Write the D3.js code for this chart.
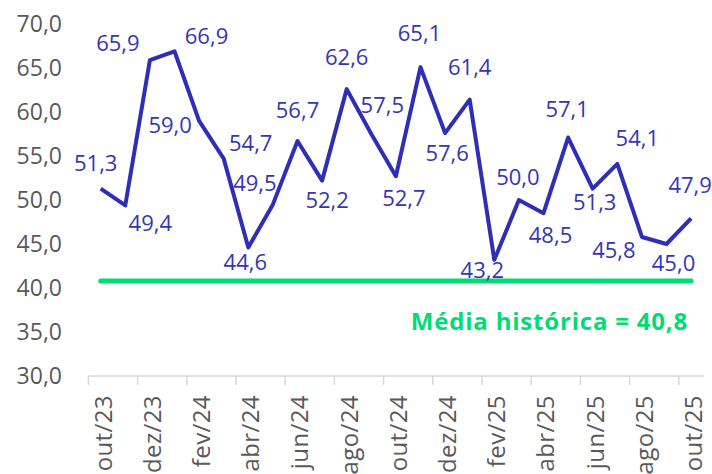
<!DOCTYPE html>
<html>
<head>
<meta charset="utf-8">
<script src="https://cdn.jsdelivr.net/npm/d3@7"></script>
<style>
	body { margin: 0; background: #fff; }
	text { font-family: "Open Sans", "Noto Sans", sans-serif; }
</style>
</head>
<body>
<div id="chart"></div>
<script>
// months shown on the axis (monthly series, out/23 .. out/25)
var months = ["out/23", "nov/23", "dez/23", "jan/24", "fev/24", "mar/24", "abr/24", "mai/24",
	"jun/24", "jul/24", "ago/24", "set/24", "out/24", "nov/24", "dez/24", "jan/25", "fev/25",
	"mar/25", "abr/25", "mai/25", "jun/25", "jul/25", "ago/25", "set/25", "out/25"];

var values = [51.3, 49.4, 65.9, 66.9, 59.0, 54.7, 44.6, 49.5, 56.7, 52.2, 62.6, 57.5, 52.7,
	65.1, 57.6, 61.4, 43.2, 50.0, 48.5, 57.1, 51.3, 54.1, 45.8, 45.0, 47.9];

var historicalMean = 40.8;
var yTicks = [30, 35, 40, 45, 50, 55, 60, 65, 70];

// where each data label sits relative to its point (dx, dy of the label centre)
var labelOffsets = [[-5, -25], [25, 18], [-32, -17], [32, -15], [-29, 4], [27, -15], [-3, 15],
	[-18, -21], [0, -31], [5, 20], [0, -32], [11, -29], [8, 22], [-1, -34], [2, 20], [0, -32],
	[-12, 10], [-1, -23], [7, 22], [-1, -28], [2, 14], [20, -26], [-28, 13], [7, 19], [-1, -33]];

var width = 712, height = 474;
var lineColor = "#2E2EB6", labelColor = "#3535B5", green = "#00DC74", axisGrey = "#595959";

var fmt = function(v) { return d3.format(".1f")(v).replace(".", ","); };

var svg = d3.select("#chart").append("svg")
	.attr("width", width)
	.attr("height", height);

var x = d3.scaleBand()
	.domain(months)
	.range([88.4, 703.4])
	.paddingInner(0);

var y = d3.scaleLinear()
	.domain([30, 70])
	.range([376, 24]);

var cx = function(m) { return x(m) + x.bandwidth() / 2; };

//y axis labels only
svg.append("g").selectAll("text")
	.data(yTicks)
	.enter().append("text")
	.attr("x", 62)
	.attr("y", d => y(d))
	.attr("dy", "0.35em")
	.attr("text-anchor", "end")
	.style("font-size", "23px")
	.style("fill", axisGrey)
	.text(fmt);

//x axis line + ticks every two months at category boundaries
var xAxis = svg.append("g");
xAxis.append("line")
	.attr("x1", x.range()[0])
	.attr("x2", x.range()[1])
	.attr("y1", y(30))
	.attr("y2", y(30))
	.style("stroke", "#D9D9D9")
	.style("stroke-width", 1.5);

var evenMonths = months.filter((m, i) => i % 2 === 0);

xAxis.selectAll(".tick")
	.data(evenMonths)
	.enter().append("line")
	.attr("class", "tick")
	.attr("x1", d => x(d))
	.attr("x2", d => x(d))
	.attr("y1", y(30))
	.attr("y2", y(30) + 9)
	.style("stroke", "#D9D9D9")
	.style("stroke-width", 1.5);

xAxis.selectAll(".xlabel")
	.data(evenMonths)
	.enter().append("text")
	.attr("class", "xlabel")
	.attr("transform", d => "translate(" + cx(d) + "," + (y(30) + 19) + ") rotate(-90)")
	.attr("dy", "0.45em")
	.attr("text-anchor", "end")
	.style("font-size", "24px")
	.style("letter-spacing", "0.4px")
	.style("fill", axisGrey)
	.text(d => d);

//historical mean
svg.append("line")
	.attr("x1", cx(months[0]))
	.attr("x2", cx(months[months.length - 1]))
	.attr("y1", y(historicalMean))
	.attr("y2", y(historicalMean))
	.style("stroke", green)
	.style("stroke-width", 5)
	.style("stroke-linecap", "round");

svg.append("text")
	.attr("x", 688)
	.attr("y", 330)
	.attr("text-anchor", "end")
	.style("font-size", "24px")
	.style("font-weight", "bold")
	.style("letter-spacing", "0.8px")
	.style("fill", green)
	.text("Média histórica = " + fmt(historicalMean));

//series
var line = d3.line()
	.x((d, i) => cx(months[i]))
	.y(d => y(d));

svg.append("path")
	.datum(values)
	.attr("d", line)
	.style("fill", "none")
	.style("stroke", lineColor)
	.style("stroke-width", 4)
	.style("stroke-linejoin", "round");

svg.append("g").selectAll("text")
	.data(values)
	.enter().append("text")
	.attr("x", (d, i) => cx(months[i]) + labelOffsets[i][0])
	.attr("y", (d, i) => y(d) + labelOffsets[i][1])
	.attr("dy", "0.35em")
	.attr("text-anchor", "middle")
	.style("font-size", "22px")
	.style("fill", labelColor)
	.text(fmt);
</script>
</body>
</html>
